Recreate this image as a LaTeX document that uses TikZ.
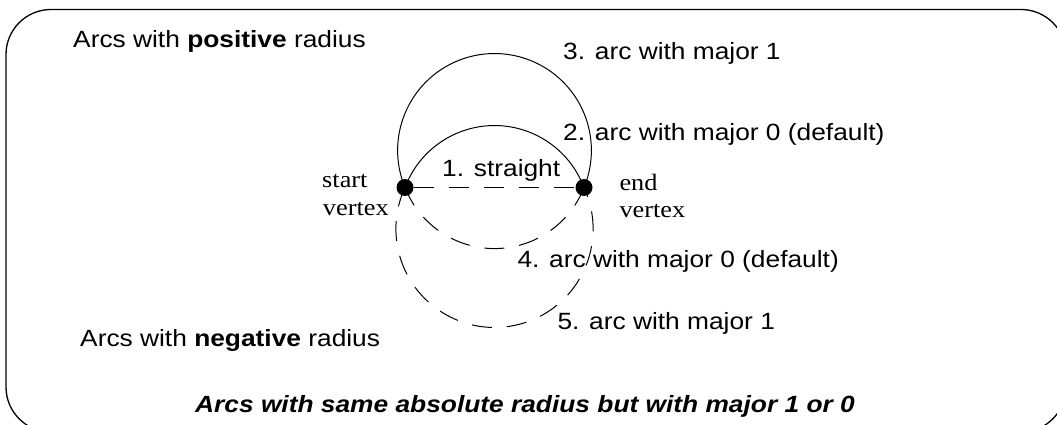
\documentclass[tikz,border=0pt]{standalone}
\usepackage{fontspec}
\setmainfont{Liberation Sans}[FakeStretch=1.12]
\newfontfamily\serifx{Liberation Serif}[FakeStretch=1.12]
\begin{document}
\begin{tikzpicture}[x=1pt,y=-1pt,
  lbl/.style={anchor=base west,inner sep=0pt,font=\fontsize{23.5}{28}\selectfont},
  vlbl/.style={anchor=base west,inner sep=0pt,font=\serifx\fontsize{23.5}{28}\selectfont},
  vdot/.style={circle,fill=black,minimum size=17pt,inner sep=0pt},
  solidarc/.style={line width=1pt},
  dasharc/.style={line width=1pt,dash pattern=on 20pt off 15pt},
  frame/.style={line width=1.3pt,rounded corners=45pt}]
\clip (0,0) rectangle (1057,425);
\draw[frame] (6,9.5) rectangle (1066,432);
% vertices
\coordinate (sc) at (405,187.5);
\coordinate (ec) at (584,187.5);
% arcs
\draw[solidarc] (sc) arc[start angle=-159.4, end angle=-20.6, radius=95.6];
\draw[solidarc] (sc) arc[start angle=157.5, end angle=382.5, radius=96.89];
\draw[dasharc] (sc) arc[start angle=158.6, end angle=21.4, radius=96.16];
\draw[dasharc] (sc) arc[start angle=204.8, end angle=-24.8, radius=98.61];
\node[vdot] (s) at (sc) {};
\node[vdot] (e) at (ec) {};
\draw[dasharc] (s) -- (e);
% labels
\node[lbl] (tpos) at (73,47.3) {Arcs with \textbf{positive} radius};
\node[lbl] (t3) at (563,60) {3. arc with major 1};
\node[lbl] (t2) at (563,140.5) {2. arc with major 0 (default)};
\node[lbl] (t1) at (442,176.7) {1. straight};
\node[vlbl] (ts1) at (322,187.3) {start};
\node[vlbl] (ts2) at (322.7,215) {vertex};
\node[vlbl] (te1) at (619.3,190.7) {end};
\node[vlbl] (te2) at (619.3,217.3) {vertex};
\node[lbl] (t4) at (517.3,267.7) {4. arc with major 0 (default)};
\node[lbl] (t5) at (557.3,329.3) {5. arc with major 1};
\node[lbl] (tneg) at (80,346.7) {Arcs with \textbf{negative} radius};
\node[lbl,font=\fontsize{23.5}{28}\selectfont\bfseries\itshape] (tbot) at (195,412) {Arcs with same absolute radius but with major 1 or 0};
\end{tikzpicture}
\end{document}
